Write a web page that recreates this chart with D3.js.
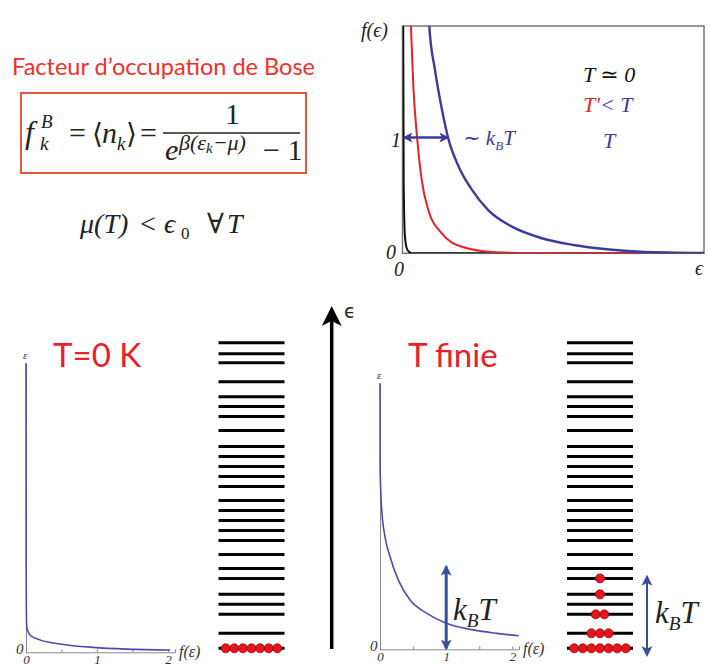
<!DOCTYPE html>
<html>
<head>
<meta charset="utf-8">
<script src="https://cdn.jsdelivr.net/npm/d3@7"></script>
<style>
  body { margin: 0; background: #fff; }
  svg { display: block; }
  .math { font-family: "Liberation Serif", "DejaVu Serif", serif; font-style: italic; }
  .rm { font-family: "Liberation Serif", "DejaVu Serif", serif; }
  .sans { font-family: Lato, "Open Sans", sans-serif; }
</style>
</head>
<body>
<script>
// ---- data ----
// top chart: [epsilon, f(epsilon)]
var curveT0 = [[0.002, 2.3], [0.004, 0.6], [0.008, 0.15], [0.016, 0.03], [0.03, 0.0], [1, 0]];
var curveTprime = [[0.026, 2.1], [0.028, 1.96], [0.036, 1.44], [0.048, 1.01], [0.064, 0.63], [0.086, 0.37],
                   [0.131, 0.17], [0.197, 0.057], [0.307, 0.01], [0.42, 0.003], [1, 0]];
var curveT = [[0.086, 2.1], [0.089, 1.96], [0.108, 1.58], [0.131, 1.24], [0.152, 0.99], [0.186, 0.75],
              [0.23, 0.55], [0.285, 0.37], [0.363, 0.23], [0.462, 0.13], [0.567, 0.072], [0.677, 0.035],
              [0.788, 0.014], [1, 0.003]];
var kTwidth = 0.152; // width of the arrow at f = 1

// bottom charts: [f, epsilon]
var occZero = [[0, 1], [0.002, 0.3], [0.005, 0.15], [0.01, 0.089], [0.056, 0.06], [0.197, 0.043],
               [0.479, 0.029], [0.948, 0.017], [1.42, 0.011], [2.03, 0.008]];
var occFinite = [[0, 1], [0.002, 0.674], [0.026, 0.524], [0.076, 0.423], [0.152, 0.348], [0.277, 0.26],
                 [0.455, 0.185], [0.708, 0.135], [1.0, 0.098], [1.364, 0.075], [1.768, 0.06], [2.095, 0.051]];
var fTicks = [0, 0.5, 1, 1.5, 2];
var kTheight = 0.31;

// energy levels (arbitrary units) and number of bosons on each one
var levels = [0, 15, 34, 44, 54, 70, 80, 94, 108, 118, 128, 138, 148, 162, 172, 182, 192, 202,
              218, 232, 242, 252, 267, 286, 295, 306];
var fillZero = [7];
var fillFinite = [7, 3, 2, 0, 1, 1];

var blue = "#3d3a9e", red = "#e8202a", arrowBlue = "#34509c";

var svg = d3.select("body").append("svg")
    .attr("width", 710)
    .attr("height", 669);

var defs = svg.append("defs");
function marker(id, color, size) {
  defs.append("marker")
      .attr("id", id)
      .attr("viewBox", "0 0 10 10")
      .attr("refX", 8).attr("refY", 5)
      .attr("markerWidth", size).attr("markerHeight", size)
      .attr("markerUnits", "userSpaceOnUse")
      .attr("orient", "auto-start-reverse")
    .append("path")
      .attr("d", "M0,0 L10,5 L0,10 L2.5,5 Z")
      .attr("fill", color);
}
marker("ab", blue, 10);
marker("ak", arrowBlue, 11);
marker("abig", "#000", 20);

// ---- top left: title + formulas ----
svg.append("text").attr("class", "sans")
    .attr("x", 12).attr("y", 75)
    .attr("font-size", 23).attr("fill", "#f0302a")
    .attr("textLength", 303).attr("lengthAdjust", "spacingAndGlyphs")
    .text("Facteur d\u2019occupation de Bose");

svg.append("rect")
    .attr("x", 21).attr("y", 93).attr("width", 285).attr("height", 80)
    .attr("fill", "none").attr("stroke", "#e8553a").attr("stroke-width", 2);

var fm = svg.append("g").attr("fill", "#222");
function tx(cls, x, y, size, s) {
  return fm.append("text").attr("class", cls).attr("x", x).attr("y", y)
      .attr("font-size", size).text(s);
}
tx("math", 25, 143, 32, "f");
tx("math", 41, 128, 19, "B");
tx("math", 40, 150, 19, "k");
tx("rm", 69, 143, 30, "=");
tx("rm", 92, 143, 28, "\u27E8");
tx("math", 102, 143, 30, "n");
tx("math", 117, 150, 19, "k");
tx("rm", 126, 143, 28, "\u27E9");
tx("rm", 140, 143, 30, "=");
tx("rm", 225, 124, 30, "1");
fm.append("line").attr("x1", 163).attr("x2", 300).attr("y1", 133).attr("y2", 133)
    .attr("stroke", "#222").attr("stroke-width", 1.6);
tx("math", 165, 160, 30, "e");
var ex = tx("math", 179, 150, 22, "\u03B2(\u03B5");
ex.append("tspan").attr("font-size", 15).attr("dy", 3).text("k");
ex.append("tspan").attr("dy", -3).text("\u2212\u03BC)");
tx("rm", 263, 160, 30, "\u2212 1");

tx("math", 80, 233, 28, "\u03BC(T)");
tx("rm", 140, 233, 28, "<");
tx("math", 164, 233, 28, "\u03F5");
tx("rm", 181, 239, 17, "0");
tx("rm", 207, 233, 28, "\u2200");
tx("math", 227, 233, 28, "T");

// ---- top right: Bose occupation for three temperatures ----
var xT = d3.scaleLinear().domain([0, 1]).range([402.5, 704]);
var yT = d3.scaleLinear().domain([0, 1]).range([253.3, 137.5]);

defs.append("clipPath").attr("id", "clipTop")
  .append("rect").attr("x", 402.5).attr("y", 26).attr("width", 301.5).attr("height", 227.3);

var lineTop = d3.line()
    .x(function(d){ return xT(d[0]); })
    .y(function(d){ return yT(d[1]); })
    .curve(d3.curveMonotoneX);

var plotTop = svg.append("g");
plotTop.append("rect")
    .attr("x", 402.5).attr("y", 26).attr("width", 301.5).attr("height", 227.3)
    .attr("fill", "none").attr("stroke", "#777").attr("stroke-width", 1.5);

var curves = [[curveT0, "#111", 2], [curveTprime, red, 2], [curveT, blue, 2.4]];
curves.forEach(function(c){
  plotTop.append("path")
      .datum(c[0])
      .attr("clip-path", "url(#clipTop)")
      .attr("d", lineTop)
      .attr("fill", "none")
      .attr("stroke", c[1])
      .attr("stroke-width", c[2]);
});

plotTop.append("line")
    .attr("x1", xT(0) + 2).attr("x2", xT(kTwidth) - 1)
    .attr("y1", yT(1)).attr("y2", yT(1))
    .attr("stroke", blue).attr("stroke-width", 2.5)
    .attr("marker-start", "url(#ab)").attr("marker-end", "url(#ab)");

function mtext(g, x, y, size, color, parts) {
  var t = g.append("text").attr("class", "math").attr("x", x).attr("y", y)
      .attr("font-size", size).attr("fill", color);
  parts.forEach(function(p){
    var s = t.append("tspan").text(p.s);
    if (p.sub) s.attr("font-size", size * 0.62).attr("dy", size * 0.22);
    if (p.up) s.attr("dy", -size * 0.22);
    if (p.c) s.attr("fill", p.c);
  });
  return t;
}
mtext(plotTop, 463, 145, 21, blue, [{s: "\u223C k"}, {s: "B", sub: true}, {s: "T", up: true}]);
mtext(plotTop, 361, 37, 20, "#222", [{s: "f(\u03F5)"}]);
mtext(plotTop, 391, 147, 20, "#222", [{s: "1"}]);
mtext(plotTop, 386, 259, 20, "#222", [{s: "0"}]);
mtext(plotTop, 394, 276, 20, "#222", [{s: "0"}]);
mtext(plotTop, 695, 275, 20, "#222", [{s: "\u03F5"}]);
mtext(plotTop, 583, 82, 22, "#111", [{s: "T \u2243 0"}]);
mtext(plotTop, 583, 112, 22, blue, [{s: "T'", c: red}, {s: "< T"}]);
mtext(plotTop, 603, 148, 22, blue, [{s: "T"}]);

// ---- bottom: occupation plots ----
function occPlot(data, x0, y0, x1, y1, label) {
  var x = d3.scaleLinear().domain([0, 2.1]).range([x0, x1]);
  var y = d3.scaleLinear().domain([0, 1]).range([y0, y1]);
  var g = svg.append("g");

  var ax = g.append("g").attr("transform", "translate(0," + y0 + ")")
      .call(d3.axisBottom(x).tickValues(fTicks).tickSize(-3).tickPadding(2)
        .tickFormat(function(d){ return d % 1 === 0 ? d : ""; }));
  ax.select(".domain").attr("stroke", "#888");
  ax.selectAll(".tick line").attr("stroke", "#888");
  ax.selectAll(".tick text").attr("class", "math").attr("font-size", 13).attr("fill", "#333")
      .attr("dy", "0.71em");

  var ay = g.append("g").attr("transform", "translate(" + x0 + ",0)")
      .call(d3.axisLeft(y).tickValues([]).tickSize(0));
  ay.select(".domain").attr("stroke", "#888");

  g.append("path")
      .datum(data)
      .attr("d", d3.line()
        .x(function(d){ return x(d[0]); })
        .y(function(d){ return y(d[1]); })
        .curve(d3.curveMonotoneX))
      .attr("fill", "none")
      .attr("stroke", "#5a44b0")
      .attr("stroke-width", 1.6);

  mtext(g, x0 - 3, y1 - 4, 11, "#333", [{s: "\u03B5"}]);
  mtext(g, x0 - 10, y0 + 2, 15, "#333", [{s: "0"}]);
  mtext(g, x1 + 4, y0 + 5, 16, "#333", [{s: label}]);

  var t = svg.append("text").attr("class", "sans")
      .attr("font-size", 33).attr("fill", red);
  return {g: g, x: x, y: y, title: t};
}

var left = occPlot(occZero, 26, 652.3, 175, 363.3, "f(\u03B5)");
left.title.attr("x", 53).attr("y", 367).text("T=0 K");

var mid = occPlot(occFinite, 380, 649.3, 519, 383.3, "f(\u03B5)");
mid.title.attr("x", 408).attr("y", 367).text("T finie");
mid.g.append("line")
    .attr("x1", mid.x(1)).attr("x2", mid.x(1))
    .attr("y1", mid.y(0) - 1).attr("y2", mid.y(kTheight))
    .attr("stroke", arrowBlue).attr("stroke-width", 3)
    .attr("marker-start", "url(#ak)").attr("marker-end", "url(#ak)");
mtext(mid.g, 453, 620, 31, "#222", [{s: "k"}, {s: "B", sub: true}, {s: "T", up: true}]);

// ---- energy level ladders ----
var yLev = d3.scaleLinear().domain([0, 306]).range([648.3, 342.7]);

function ladder(cx, fill) {
  var g = svg.append("g");
  g.selectAll("line.lev").data(levels).enter().append("line")
      .attr("class", "lev")
      .attr("x1", cx - 33).attr("x2", cx + 33)
      .attr("y1", function(d){ return yLev(d); })
      .attr("y2", function(d){ return yLev(d); })
      .attr("stroke", "#000").attr("stroke-width", 3);

  var dots = [];
  fill.forEach(function(n, i){
    for (var k = 0; k < n; k++) dots.push({e: levels[i], slot: k - (n - 1) / 2});
  });
  var xs = d3.scaleLinear().domain([-1, 1]).range([cx - 8.6, cx + 8.6]);
  g.selectAll("circle").data(dots).enter().append("circle")
      .attr("cx", function(d){ return xs(d.slot); })
      .attr("cy", function(d){ return yLev(d.e); })
      .attr("r", 4.5)
      .attr("fill", "#e8141c")
      .attr("stroke", "#8a0a0a").attr("stroke-width", 0.8);
  return g;
}
ladder(251.5, fillZero);
var right = ladder(600, fillFinite);

right.append("line")
    .attr("x1", 647).attr("x2", 647)
    .attr("y1", yLev(-6.5)).attr("y2", yLev(71.5))
    .attr("stroke", arrowBlue).attr("stroke-width", 2)
    .attr("marker-start", "url(#ak)").attr("marker-end", "url(#ak)");
mtext(right, 655, 623, 31, "#222", [{s: "k"}, {s: "B", sub: true}, {s: "T", up: true}]);

// big energy axis
svg.append("line")
    .attr("x1", 331.7).attr("x2", 331.7)
    .attr("y1", 649).attr("y2", 310)
    .attr("stroke", "#000").attr("stroke-width", 3.5)
    .attr("marker-end", "url(#abig)");
svg.append("text").attr("x", 344).attr("y", 318)
    .attr("font-family", "DejaVu Sans, sans-serif").attr("font-size", 19).attr("fill", "#222")
    .text("\u03F5");
</script>
</body>
</html>
